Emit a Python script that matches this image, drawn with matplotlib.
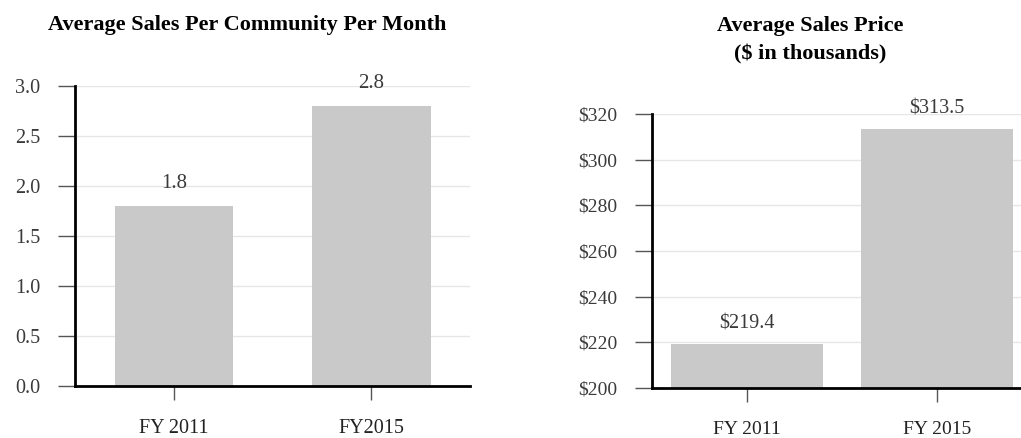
import matplotlib.pyplot as plt

# Data
sales_cats = ["FY 2011", "FY2015"]
sales_vals = [1.8, 2.8]
sales_labels = ["1.8", "2.8"]

price_cats = ["FY 2011", "FY 2015"]
price_vals = [219.4, 313.5]
price_labels = ["$219.4", "$313.5"]

W, H = 1021, 438
plt.rcParams['font.family'] = ['Liberation Serif', 'DejaVu Serif']

fig = plt.figure(figsize=(W / 100, H / 100), dpi=100)

bar_color = '#c9c9c9'
grid_color = '#e6e6e6'
text_color = '#3a3a3a'


def px_axes(x0, y0, x1, y1):
    # pixel box (left, top, right, bottom) -> figure fraction
    return fig.add_axes([x0 / W, 1 - y1 / H, (x1 - x0) / W, (y1 - y0) / H])


def style(ax, fs):
    for s in ['top', 'right']:
        ax.spines[s].set_visible(False)
    ax.spines['left'].set_linewidth(2)
    ax.spines['bottom'].set_linewidth(2)
    ax.set_axisbelow(True)
    ax.yaxis.grid(True, color=grid_color, linewidth=1)
    ax.tick_params(axis='y', length=12, width=1, color='#555555',
                   labelsize=fs, labelcolor=text_color, pad=13)
    ax.tick_params(axis='x', length=10, width=1, color='#555555',
                   labelsize=fs, labelcolor='#222222', pad=13.5)


# Left chart
ax1 = px_axes(75, 86, 470, 386)
ax1.bar(range(len(sales_vals)), sales_vals, width=0.6, color=bar_color)
ax1.set_xlim(-0.5, 1.5)
ax1.set_ylim(0, 3.0)
ax1.set_yticks([0, 0.5, 1.0, 1.5, 2.0, 2.5, 3.0])
ax1.set_yticklabels([f"{v:.1f}" for v in [0, 0.5, 1.0, 1.5, 2.0, 2.5, 3.0]])
ax1.set_xticks(range(len(sales_cats)))
ax1.set_xticklabels(sales_cats)
style(ax1, 14.5)
for i, v in enumerate(sales_vals):
    ax1.annotate(sales_labels[i], (i, v), xytext=(0, 16), textcoords='offset points',
                 ha='center', va='center', fontsize=15, color=text_color)
fig.text(247 / W, 1 - 25 / H, "Average Sales Per Community Per Month",
         ha='center', va='center', fontsize=16, fontweight='bold')

# Right chart
ax2 = px_axes(652, 114, 1021, 388)
ax2.bar(range(len(price_vals)), price_vals, width=0.8, color=bar_color)
ax2.set_xlim(-0.5, 1.44)
ax2.set_ylim(200, 320)
yt = list(range(200, 321, 20))
ax2.set_yticks(yt)
ax2.set_yticklabels([f"${v}" for v in yt])
ax2.set_xticks(range(len(price_cats)))
ax2.set_xticklabels(price_cats)
style(ax2, 14)
for i, v in enumerate(price_vals):
    ax2.annotate(price_labels[i], (i, v), xytext=(0, 14), textcoords='offset points',
                 ha='center', va='center', fontsize=14.5, color=text_color)
fig.text(810 / W, 1 - 40 / H, "Average Sales Price\n($ in thousands)",
         ha='center', va='center', fontsize=16, fontweight='bold', linespacing=1.55)

fig.savefig("out.png", dpi=100)
